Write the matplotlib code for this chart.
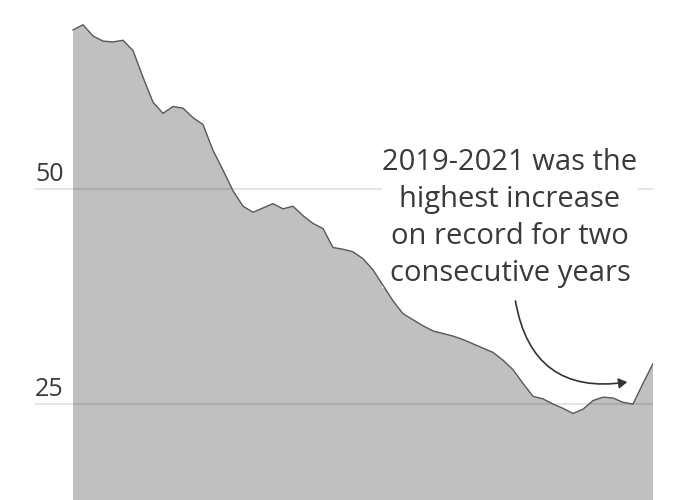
import matplotlib
matplotlib.use("Agg")
import matplotlib.pyplot as plt
from matplotlib.patches import FancyArrowPatch

# annual values
years = list(range(1963, 2022))
values = [
    68.5, 69.1, 67.8, 67.2, 67.1, 67.3, 66.1, 63.0, 60.1, 58.8,
    59.6, 59.4, 58.3, 57.5, 54.5, 52.2, 49.8, 48.0, 47.3, 47.8,
    48.3, 47.7, 48.0, 46.9, 46.0, 45.4, 43.2, 43.0, 42.7, 41.9,
    40.6, 38.8, 37.0, 35.5, 34.8, 34.1, 33.5, 33.2, 32.9, 32.5,
    32.0, 31.5, 31.0, 30.1, 29.0, 27.4, 25.9, 25.6, 25.0, 24.5,
    23.9, 24.4, 25.4, 25.8, 25.7, 25.2, 25.0, 27.4, 29.7,
]
grid_values = [25, 50]
note = "2019-2021 was the\nhighest increase\non record for two\nconsecutive years"

FONT = ["Open Sans", "DejaVu Sans"]
TEXT_COLOR = "#3a3a3a"

fig = plt.figure(figsize=(7, 5), dpi=100)
ax = fig.add_axes([35 / 700, 0, (653 - 35) / 700, 1])
ax.set_xlim(1959.2, 2021)
ax.set_ylim(13.84, 71.98)
ax.axis("off")

ax.fill_between(years, values, 0, color="#c0c0c0", lw=0, zorder=1)
ax.plot(years, values, color="#585858", lw=1.0, zorder=2)

for g in grid_values:
    ax.axhline(g, color="black", alpha=0.1, lw=1.5, zorder=1.5)
    ax.text(1959.2, g + 0.25, str(g), ha="left", va="bottom",
            fontsize=18, color=TEXT_COLOR, family=FONT, zorder=4)

# callout, white box hides the gridline behind it (but not the data line)
ax.text(2006.7, 46.6, note, ha="center", va="center", fontsize=21,
        color=TEXT_COLOR, family=FONT, linespacing=1.37, zorder=1.8,
        bbox=dict(facecolor="white", edgecolor="none", pad=0))

arrow = FancyArrowPatch((2007.2, 37.3), (2018.7, 27.6),
                        connectionstyle="arc3,rad=0.5",
                        arrowstyle="-|>,head_length=5,head_width=3",
                        color="#333333", lw=1.2, zorder=6)
ax.add_patch(arrow)

fig.savefig("out.png", dpi=100)
